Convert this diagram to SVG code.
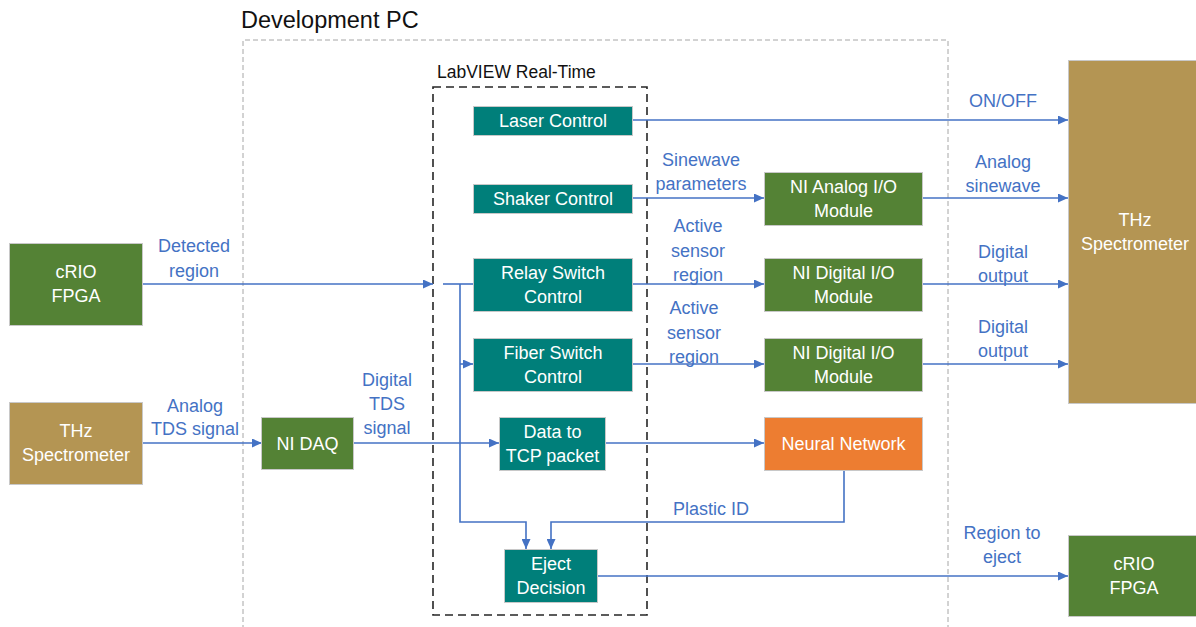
<svg xmlns="http://www.w3.org/2000/svg" width="1196" height="627" viewBox="0 0 1196 627">
<defs>
<marker id="arr" markerUnits="userSpaceOnUse" markerWidth="10" markerHeight="9" refX="10" refY="4.5" orient="auto">
<path d="M0,0 L10,4.5 L0,9 z" fill="#4472C4"/>
</marker>
<style>
text{font-family:"Liberation Sans",Arial,sans-serif;}
.n{font-size:18px;fill:#ffffff;text-anchor:middle;}
.l{font-size:18px;fill:#4472C4;text-anchor:middle;}
.teal{fill:#007F7A;stroke:#c8c8c8;stroke-width:1;}
.green{fill:#548235;stroke:#c8c8c8;stroke-width:1;}
.tan{fill:#B49553;stroke:#c8c8c8;stroke-width:1;}
.orange{fill:#ED7D31;stroke:#c8c8c8;stroke-width:1;}
.c{fill:none;stroke:#4472C4;stroke-width:1.6;}
.a{marker-end:url(#arr);}
</style>
</defs>
<rect width="1196" height="627" fill="#ffffff"/>

<g id="development-pc">
<path d="M243,630 L243,40 L948,40 L948,630" fill="none" stroke="#a6a6a6" stroke-width="1" stroke-dasharray="5,3"/>
<text x="241" y="28" font-size="23.5" fill="#111">Development PC</text>
</g>
<g id="labview-rt">
<rect x="433" y="87" width="214" height="528" fill="none" stroke="#262626" stroke-width="1.6" stroke-dasharray="8,5"/>
<text x="437" y="78" font-size="17.5" fill="#111">LabVIEW Real-Time</text>
</g>

<g id="connectors">
<path class="c a" d="M632,120 L1068,120"/>
<path class="c a" d="M632,198 L764,198"/>
<path class="c a" d="M922,198 L1068,198"/>
<path class="c a" d="M632,284 L764,284"/>
<path class="c a" d="M922,284 L1068,284"/>
<path class="c a" d="M632,364 L764,364"/>
<path class="c a" d="M922,364 L1068,364"/>
<path class="c a" d="M142,284 L433,284"/>
<path class="c" d="M443,284 L473,284"/>
<path class="c a" d="M460,364 L473,364"/>
<path class="c a" d="M460,284 L460,522 L526,522 L526,549"/>
<path class="c a" d="M142,443 L262,443"/>
<path class="c a" d="M353,443 L499,443"/>
<path class="c a" d="M605,443 L764,443"/>
<path class="c a" d="M844,470 L844,522 L551,522 L551,549"/>
<path class="c a" d="M597,576 L1068,576"/>
</g>

<g id="labels">
<text class="l" x="194" y="252">Detected</text>
<text class="l" x="194" y="277">region</text>
<text class="l" x="195" y="412">Analog</text>
<text class="l" x="195" y="435">TDS signal</text>
<text class="l" x="387" y="386">Digital</text>
<text class="l" x="387" y="410">TDS</text>
<text class="l" x="387" y="434">signal</text>
<text class="l" x="1003" y="107">ON/OFF</text>
<text class="l" x="701" y="166">Sinewave</text>
<text class="l" x="701" y="190">parameters</text>
<text class="l" x="1003" y="168">Analog</text>
<text class="l" x="1003" y="192">sinewave</text>
<text class="l" x="698" y="232">Active</text>
<text class="l" x="698" y="257">sensor</text>
<text class="l" x="698" y="281">region</text>
<text class="l" x="694" y="314">Active</text>
<text class="l" x="694" y="339">sensor</text>
<text class="l" x="694" y="363">region</text>
<text class="l" x="1003" y="258">Digital</text>
<text class="l" x="1003" y="282">output</text>
<text class="l" x="1003" y="333">Digital</text>
<text class="l" x="1003" y="357">output</text>
<text class="l" x="711" y="515">Plastic ID</text>
<text class="l" x="1002" y="539">Region to</text>
<text class="l" x="1002" y="563">eject</text>
</g>

<g id="crio-fpga-left">
<rect class="green" x="9.5" y="243.5" width="133" height="82"/>
<text class="n" x="76" y="278">cRIO</text>
<text class="n" x="76" y="302">FPGA</text>
</g>
<g id="thz-left">
<rect class="tan" x="9.5" y="402.5" width="133" height="82"/>
<text class="n" x="76" y="437">THz</text>
<text class="n" x="76" y="461">Spectrometer</text>
</g>
<g id="ni-daq">
<rect class="green" x="261.5" y="417.5" width="92" height="52"/>
<text class="n" x="307.5" y="450">NI DAQ</text>
</g>
<g id="laser-control">
<rect class="teal" x="473.5" y="106.5" width="159" height="29"/>
<text class="n" x="553" y="127">Laser Control</text>
</g>
<g id="shaker-control">
<rect class="teal" x="473.5" y="184.5" width="159" height="29"/>
<text class="n" x="553" y="205">Shaker Control</text>
</g>
<g id="relay-switch-control">
<rect class="teal" x="473.5" y="258.5" width="159" height="53"/>
<text class="n" x="553" y="279">Relay Switch</text>
<text class="n" x="553" y="303">Control</text>
</g>
<g id="fiber-switch-control">
<rect class="teal" x="473.5" y="338.5" width="159" height="53"/>
<text class="n" x="553" y="359">Fiber Switch</text>
<text class="n" x="553" y="383">Control</text>
</g>
<g id="data-to-tcp">
<rect class="teal" x="499.5" y="417.5" width="106" height="53"/>
<text class="n" x="552.5" y="438">Data to</text>
<text class="n" x="552.5" y="462">TCP packet</text>
</g>
<g id="eject-decision">
<rect class="teal" x="504.5" y="549.5" width="93" height="53"/>
<text class="n" x="551" y="570">Eject</text>
<text class="n" x="551" y="594">Decision</text>
</g>
<g id="ni-analog-io">
<rect class="green" x="764.5" y="172.5" width="158" height="53"/>
<text class="n" x="843.5" y="193">NI Analog I/O</text>
<text class="n" x="843.5" y="217">Module</text>
</g>
<g id="ni-digital-io-1">
<rect class="green" x="764.5" y="258.5" width="158" height="53"/>
<text class="n" x="843.5" y="279">NI Digital I/O</text>
<text class="n" x="843.5" y="303">Module</text>
</g>
<g id="ni-digital-io-2">
<rect class="green" x="764.5" y="338.5" width="158" height="53"/>
<text class="n" x="843.5" y="359">NI Digital I/O</text>
<text class="n" x="843.5" y="383">Module</text>
</g>
<g id="neural-network">
<rect class="orange" x="764.5" y="417.5" width="158" height="53"/>
<text class="n" x="843.5" y="450">Neural Network</text>
</g>
<g id="thz-right">
<rect class="tan" x="1068.5" y="60.5" width="134" height="343"/>
<text class="n" x="1135" y="226">THz</text>
<text class="n" x="1135" y="250">Spectrometer</text>
</g>
<g id="crio-fpga-right">
<rect class="green" x="1068.5" y="535.5" width="134" height="81"/>
<text class="n" x="1134" y="570">cRIO</text>
<text class="n" x="1134" y="594">FPGA</text>
</g>
</svg>
